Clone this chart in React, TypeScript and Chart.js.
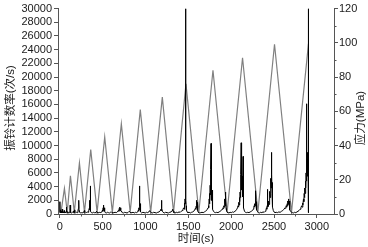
import { useEffect, useRef } from 'react';
import { Chart, registerables } from 'chart.js';

Chart.register(...registerables);

// Stress (right axis, MPa) – triangular loading/unloading cycles
const stressTime = [0, 15, 55, 88, 125, 170, 230, 289, 362, 436, 525, 614, 719, 822, 940, 1061, 1197, 1328, 1473, 1623, 1788, 1953, 2133, 2312, 2506, 2704, 2902];
const stressMPa = [1, 1, 15, 1, 22.3, 1, 29.9, 1, 37.7, 1, 45, 1, 52.8, 1, 61, 1, 68.3, 1, 76, 1, 84, 1, 91.3, 1, 99.2, 1, 99.4];

// Ringing count rate (left axis, counts/s) – [time (s), rate]
const aeRingRate: [number, number][] = [
  [0, 200], [2, 1800], [4, 300], [8, 600], [12, 200], [18, 400], [24, 150], [30, 700], [34, 200], [40, 300], [46, 150], [52, 500], [56, 200], [62, 250], [70, 150], [76, 400], [78, 1000], [80, 300], [86, 200], [92, 350], [98, 150], [106, 250], [112, 200], [118, 500], [122, 1300], [124, 400], [130, 200],
  [140, 150], [150, 250], [160, 400], [166, 200], [172, 600], [176, 250], [184, 150], [194, 250], [204, 200], [212, 400], [218, 800], [222, 2000], [225, 500], [230, 300], [240, 150], [252, 200], [262, 150], [272, 250], [282, 300], [288, 500], [292, 250], [300, 150],
  [310, 200], [320, 300], [330, 250], [338, 500], [344, 800], [348, 2000], [351, 600], [354, 1500], [356, 4100], [358, 900], [362, 400], [370, 200], [380, 150], [392, 250], [404, 200], [414, 150], [424, 300], [430, 400], [436, 250], [444, 150],
  [456, 200], [468, 250], [480, 200], [492, 300], [500, 600], [504, 400], [506, 900], [508, 600], [510, 1300], [513, 700], [516, 1100], [519, 600], [522, 900], [526, 400], [532, 200], [544, 150], [556, 250], [568, 200], [580, 150], [592, 250], [602, 300], [610, 200], [620, 150],
  [632, 200], [646, 250], [660, 200], [672, 300], [684, 500], [690, 400], [694, 800], [698, 500], [702, 1000], [706, 600], [710, 900], [714, 500], [718, 400], [722, 300], [730, 200], [744, 150], [758, 250], [772, 200], [786, 150], [800, 250], [812, 400], [820, 250], [830, 150],
  [842, 200], [856, 250], [870, 150], [884, 250], [898, 200], [910, 300], [918, 600], [922, 400], [924, 900], [926, 600], [928, 1500], [931, 800], [934, 4100], [936, 1200], [938, 1500], [940, 600], [946, 300], [956, 150], [970, 250], [984, 200], [998, 150], [1012, 250], [1026, 200], [1040, 300], [1050, 500], [1058, 300], [1066, 200],
  [1080, 150], [1096, 250], [1112, 200], [1128, 150], [1144, 250], [1160, 300], [1172, 500], [1180, 700], [1184, 500], [1186, 1000], [1188, 700], [1190, 2000], [1193, 800], [1198, 400], [1206, 250], [1220, 150], [1236, 250], [1252, 200], [1268, 150], [1284, 250], [1300, 300], [1310, 500], [1318, 700], [1324, 400], [1332, 200],
  [1346, 150], [1360, 250], [1376, 200], [1392, 300], [1406, 250], [1418, 400], [1428, 500], [1438, 700], [1446, 900], [1450, 700], [1452, 1200], [1455, 900], [1458, 1600], [1460, 1100], [1462, 2200], [1466, 1500], [1469, 2500], [1471, 30000], [1473, 2000], [1475, 1200], [1478, 600], [1486, 300], [1496, 200], [1510, 250], [1524, 150], [1538, 250], [1552, 300], [1564, 400], [1574, 600], [1582, 800], [1588, 700], [1590, 1100], [1593, 900], [1596, 1500], [1598, 1100], [1600, 2000], [1603, 1300], [1606, 1700], [1608, 600], [1614, 300], [1622, 200], [1632, 150],
  [1646, 200], [1660, 250], [1674, 200], [1688, 300], [1700, 400], [1712, 500], [1722, 700], [1730, 900], [1736, 1200], [1740, 900], [1744, 2200], [1747, 1500], [1750, 3000], [1752, 2000], [1755, 4200], [1757, 2800], [1759, 5500], [1761, 3500], [1763, 6500], [1765, 10300], [1767, 4000], [1769, 6400], [1771, 3000], [1773, 5200], [1775, 2000], [1778, 3500], [1781, 1200], [1785, 700], [1794, 400], [1804, 250], [1818, 200], [1832, 250], [1846, 200], [1860, 300], [1872, 400], [1884, 500], [1894, 700], [1904, 900], [1910, 800], [1914, 1200], [1918, 1000], [1921, 1600], [1924, 1300], [1927, 2200], [1930, 1500], [1933, 3200], [1935, 1200], [1938, 1900], [1941, 800], [1946, 500], [1952, 300], [1960, 200],
  [1974, 150], [1988, 250], [2002, 200], [2016, 300], [2030, 250], [2044, 400], [2056, 500], [2066, 700], [2074, 900], [2080, 1200], [2086, 1000], [2090, 1700], [2094, 1300], [2098, 2400], [2101, 1800], [2104, 3200], [2107, 2400], [2110, 4300], [2112, 3000], [2114, 5800], [2117, 10400], [2119, 4000], [2122, 5800], [2124, 3500], [2127, 5500], [2130, 3000], [2133, 4500], [2136, 2500], [2139, 8400], [2141, 2000], [2144, 3000], [2148, 900], [2156, 400], [2166, 250], [2180, 200], [2194, 250], [2208, 200], [2222, 300], [2236, 400], [2248, 500], [2258, 700], [2264, 900], [2268, 1200], [2272, 1000], [2276, 1500], [2279, 1200], [2282, 1900], [2285, 1300], [2288, 3400], [2290, 1300], [2293, 1800], [2296, 900], [2300, 600], [2306, 400], [2316, 200],
  [2330, 150], [2344, 250], [2358, 200], [2372, 300], [2386, 250], [2398, 400], [2406, 600], [2412, 900], [2416, 700], [2420, 1200], [2424, 3600], [2426, 1000], [2430, 1500], [2434, 1100], [2438, 1900], [2442, 1400], [2446, 2600], [2449, 1900], [2452, 3300], [2455, 2400], [2458, 4200], [2461, 3000], [2464, 5200], [2466, 3800], [2468, 5800], [2471, 9000], [2473, 4200], [2475, 5800], [2477, 3000], [2479, 4600], [2482, 2000], [2486, 1000], [2492, 500], [2500, 300], [2512, 200], [2526, 250], [2540, 200], [2556, 300], [2572, 250], [2588, 400], [2602, 500], [2616, 700], [2628, 900], [2636, 800], [2642, 1200], [2648, 1000], [2654, 1500], [2658, 1200], [2662, 1900], [2666, 1400], [2670, 2200], [2673, 1500], [2676, 1900], [2680, 900], [2686, 600], [2694, 400], [2704, 250], [2714, 200],
  [2726, 150], [2740, 250], [2754, 200], [2768, 300], [2780, 400], [2792, 500], [2804, 700], [2814, 900], [2822, 1200], [2828, 1000], [2834, 1600], [2838, 1300], [2844, 2200], [2848, 1800], [2852, 3000], [2856, 2400], [2860, 3800], [2864, 3000], [2868, 4800], [2871, 3800], [2874, 6000], [2877, 4800], [2880, 8000], [2882, 16100], [2884, 6000], [2886, 8000], [2888, 5500], [2891, 7500], [2893, 5500], [2896, 9000], [2898, 6500], [2900, 7500], [2901, 30000], [2903, 8000], [2904, 200],
];

const xMajorTicks = [0, 500, 1000, 1500, 2000, 2500, 3000];
const xMinorTicks = [250, 750, 1250, 1750, 2250, 2750];
const rightMinorTicks = [10, 30, 50, 70, 90, 110];

const leftTitle = '振铃计数率(次/s)';
const rightTitle = '应力(MPa)';
const bottomTitle = '时间(s)';

const AXIS = '#555555';
const TXT = '#1a1a1a';
const FONT = "'Liberation Sans', Arial, sans-serif";
const CJK = "'Liberation Sans', 'Noto Sans CJK SC', sans-serif";

const decor = {
  id: 'decor',
  afterDraw(chart: any) {
    const ctx = chart.ctx as CanvasRenderingContext2D;
    const xs = chart.scales.x;
    const yr = chart.scales.y1;
    const area = chart.chartArea;
    ctx.save();
    ctx.strokeStyle = AXIS;
    ctx.lineWidth = 1;
    ctx.beginPath();
    for (const v of xMinorTicks) {
      const px = Math.round(xs.getPixelForValue(v)) + 0.5;
      ctx.moveTo(px, area.bottom);
      ctx.lineTo(px, area.bottom + 2.5);
    }
    for (const v of rightMinorTicks) {
      const py = Math.round(yr.getPixelForValue(v)) + 0.5;
      ctx.moveTo(area.right, py);
      ctx.lineTo(area.right + 2.5, py);
    }
    ctx.stroke();

    ctx.fillStyle = TXT;
    ctx.font = `11.5px ${CJK}`;
    ctx.textAlign = 'center';
    ctx.textBaseline = 'middle';
    ctx.save();
    ctx.translate(10.5, 108);
    ctx.rotate(-Math.PI / 2);
    ctx.fillText(leftTitle, 0, 0);
    ctx.restore();
    ctx.save();
    ctx.translate(361, 118);
    ctx.rotate(-Math.PI / 2);
    ctx.fillText(rightTitle, 0, 0);
    ctx.restore();
    ctx.fillText(bottomTitle, (area.left + area.right) / 2, 239);
    ctx.restore();
  },
};

export default function App() {
  const ref = useRef<HTMLCanvasElement | null>(null);

  useEffect(() => {
    if (!ref.current) return;
    const tickFont = { family: FONT, size: 11 };
    const grid = {
      display: true,
      drawOnChartArea: false,
      drawTicks: true,
      tickLength: 4,
      color: AXIS,
      tickColor: AXIS,
    };
    const border = { display: true, color: AXIS, width: 1 };
    const chart = new Chart(ref.current, {
      type: 'line',
      data: {
        datasets: [
          {
            label: 'ring',
            data: aeRingRate.map(([t, v]) => ({ x: t, y: v })),
            yAxisID: 'y',
            borderColor: '#000000',
            borderWidth: 1,
            pointRadius: 0,
            tension: 0,
            fill: false,
          },
          {
            label: 'stress',
            data: stressTime.map((t, i) => ({ x: t, y: stressMPa[i] })),
            yAxisID: 'y1',
            borderColor: '#808080',
            borderWidth: 1.2,
            pointRadius: 0,
            tension: 0,
            fill: false,
          },
        ],
      },
      options: {
        animation: false,
        responsive: true,
        maintainAspectRatio: false,
        layout: { padding: { top: 7, left: 0, right: 0, bottom: 0 } },
        plugins: { legend: { display: false }, tooltip: { enabled: false } },
        scales: {
          x: {
            type: 'linear',
            min: -20,
            max: 3200,
            afterFit: (s: any) => { s.height = 33; },
            afterBuildTicks: (s: any) => { s.ticks = xMajorTicks.map((v) => ({ value: v })); },
            grid,
            border,
            ticks: {
              autoSkip: false,
              maxRotation: 0,
              padding: 2,
              color: TXT,
              font: tickFont,
              callback: (v: any) => String(v),
            },
          },
          y: {
            type: 'linear',
            position: 'left',
            min: 0,
            max: 30000,
            afterFit: (s: any) => { s.width = 58; },
            grid,
            border,
            ticks: {
              stepSize: 2000,
              autoSkip: false,
              padding: 2,
              color: TXT,
              font: tickFont,
              callback: (v: any) => String(v),
            },
          },
          y1: {
            type: 'linear',
            position: 'right',
            min: 0,
            max: 120,
            afterFit: (s: any) => { s.width = 34; },
            grid,
            border,
            ticks: {
              stepSize: 20,
              autoSkip: false,
              padding: 1,
              color: TXT,
              font: tickFont,
              callback: (v: any) => String(v),
            },
          },
        },
      },
      plugins: [decor],
    });
    return () => chart.destroy();
  }, []);

  return (
    <div style={{ position: 'fixed', left: 0, top: 0, width: 368, height: 247, background: '#fff' }}>
      <canvas ref={ref} />
    </div>
  );
}
